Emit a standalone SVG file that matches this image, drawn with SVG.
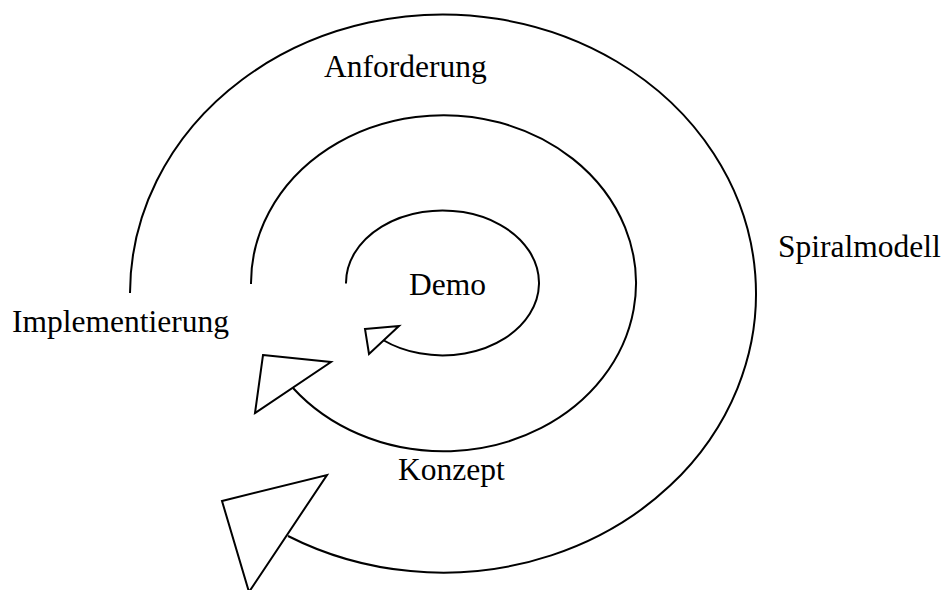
<svg xmlns="http://www.w3.org/2000/svg" width="944" height="590" viewBox="0 0 944 590">
<style>
.arc{fill:none;stroke:#000;stroke-width:2}
.head{fill:#fff;stroke:#000;stroke-width:2;stroke-linejoin:miter}
.lbl{font-family:"Liberation Serif","Times New Roman",serif;font-size:31.5px;fill:#000}
</style>
<rect width="944" height="590" fill="#fff"/>
<g id="connectors">
<path class="arc" d="M 130 293 A 313 279 0 1 1 288 536"/>
<polygon class="head" points="222,501 327,475 249,592"/>
<path class="arc" d="M 251 284 A 192.5 168 0 1 1 293 388"/>
<polygon class="head" points="263,355 331,362 255,413"/>
<path class="arc" d="M 346 283.5 A 96.5 72.5 0 1 1 383 340"/>
<polygon class="head" points="365,329 399,326 369,354"/>
</g>
<g id="anforderung"><text class="lbl" x="324" y="77">Anforderung</text></g>
<g id="implementierung"><text class="lbl" x="12" y="332">Implementierung</text></g>
<g id="spiralmodell"><text class="lbl" x="778" y="257">Spiralmodell</text></g>
<g id="demo"><text class="lbl" x="409" y="295">Demo</text></g>
<g id="konzept"><text class="lbl" x="398" y="480">Konzept</text></g>
</svg>
